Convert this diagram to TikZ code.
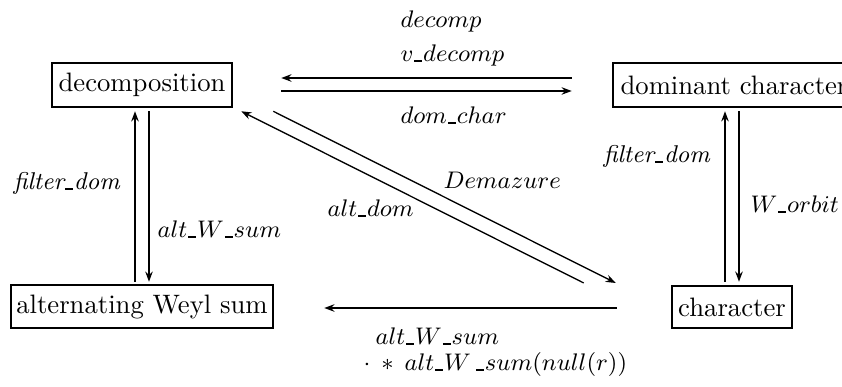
\documentclass[tikz,border=0pt]{standalone}
\usetikzlibrary{calc,arrows.meta}
\newcommand{\us}{\mathord{\kern0.4pt\rule{2.9pt}{0.8pt}\kern0.4pt}}
\newcommand{\tus}{\kern0.4pt\rule{2.9pt}{0.8pt}\kern0.4pt}
\begin{document}
\begin{tikzpicture}[x=0.375pt,y=-0.375pt,
  box/.style={draw,line width=0.95pt,inner sep=0pt,font=\fontsize{10}{12}\selectfont},
  thinar/.style={line width=0.5pt,-{Stealth[length=3.8pt,width=2.8pt]}},
  thickar/.style={line width=1.1pt,-{Stealth[length=3.8pt,width=2.8pt]}},
  medar/.style={line width=0.75pt,-{Stealth[length=3.8pt,width=2.8pt]}},
  lab/.style={anchor=base west,inner sep=0pt,font=\fontsize{9.1}{11}\selectfont}]
\useasboundingbox (0,0) rectangle (842,387);
\node[box,minimum width=180*0.375pt,minimum height=44*0.375pt] (dec) at (142,85) {decomposition};
\node[box,minimum width=242*0.375pt,minimum height=44*0.375pt] (dom) at (734,85) {dominant character};
\node[box,minimum width=262*0.375pt,minimum height=43*0.375pt] (alt) at (142,306.5) {alternating Weyl sum};
\node[box,minimum width=120*0.375pt,minimum height=42*0.375pt] (chr) at (732,307) {character};
% left verticals
\draw[thickar] ($(alt.north)+(-7,-2)$) -- ($(dec.south)+(-7,3)$);
\draw[thinar] ($(dec.south)+(7,3)$) -- ($(alt.north)+(7,-2)$);
% right verticals
\draw[thinar] ($(chr.north)+(-7,-3)$) -- ($(dom.south)+(-9,3)$);
\draw[thickar] ($(dom.south)+(5,3)$) -- ($(chr.north)+(7,-3)$);
% top horizontals
\draw[thickar] ($(dom.west)+(-40,-7)$) -- ($(dec.east)+(48,-7)$);
\draw[thinar] ($(dec.east)+(48,6)$) -- ($(dom.west)+(-40,6)$);
% diagonals
\draw[thinar] ($(chr.west)+(-87,-24)$) -- ($(dec.south east)+(8,3)$);
\draw[thinar] ($(dec.south east)+(40,3)$) -- ($(chr.west)+(-55,-24)$);
% bottom
\draw[medar] ($(chr.west)+(-54,1)$) -- ($(alt.east)+(50,1.5)$);
% labels
\node[lab] (l1) at (400,28) {$decomp$};
\node[lab] (l2) at (400,62) {$v\us decomp$};
\node[lab] (l3) at (400,124) {$dom\us char$};
\node[lab] (l4) at (13,190) {\textit{filter\tus dom}};
\node[lab] (l5) at (157,238) {$alt\us W\us sum$};
\node[lab] (l6) at (603,163) {\textit{filter\tus dom}};
\node[lab] (l7) at (750,213) {$W\us orbit$};
\node[lab] (l8) at (443,189) {$Demazure$};
\node[lab] (l9) at (327,217) {$alt\us dom$};
\node[lab] (l10) at (375,345) {$alt\us W\us sum$};
\node[lab] (l11) at (363,371) {$\cdot\:\ast\: alt\us W\,\us sum(null(r))$};
\end{tikzpicture}
\end{document}
